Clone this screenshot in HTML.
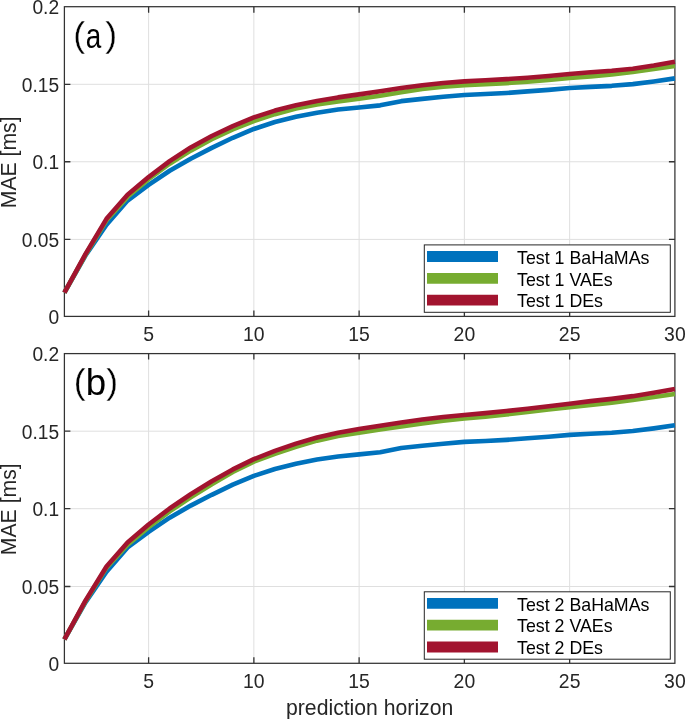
<!DOCTYPE html>
<html><head><meta charset="utf-8"><style>
html,body{margin:0;padding:0;background:#fff;width:685px;height:719px;overflow:hidden}
svg{display:block;will-change:transform}
</style></head><body>
<svg width="685" height="719" viewBox="0 0 685 719">
<rect width="685" height="719" fill="#fff"/>
<path d="M148.61 6.70V316.40 M253.87 6.70V316.40 M359.12 6.70V316.40 M464.38 6.70V316.40 M569.64 6.70V316.40 M64.40 239.40H674.90 M64.40 161.75H674.90 M64.40 84.30H674.90" stroke="#dfdfdf" stroke-width="1" fill="none"/>
<path d="M148.61 316.40v-6M148.61 6.70v6 M253.87 316.40v-6M253.87 6.70v6 M359.12 316.40v-6M359.12 6.70v6 M464.38 316.40v-6M464.38 6.70v6 M569.64 316.40v-6M569.64 6.70v6 M64.40 239.40h6M674.90 239.40h-6 M64.40 161.75h6M674.90 161.75h-6 M64.40 84.30h6M674.90 84.30h-6" stroke="#333" stroke-width="1.3" fill="none"/>
<rect x="64.4" y="6.7" width="610.5" height="309.7" fill="none" stroke="#333" stroke-width="1.25"/>
<g fill="none" stroke-width="4.6" stroke-linejoin="round" stroke-linecap="butt">
<polyline points="64.40,292.55 85.45,255.54 106.50,224.73 127.56,200.57 148.61,184.89 169.66,170.76 190.71,158.72 211.76,147.92 232.81,137.78 253.87,128.95 274.92,122.06 295.97,116.80 317.02,112.69 338.07,109.52 359.12,107.51 380.18,105.34 401.23,101.16 422.28,98.84 443.33,96.82 464.38,94.96 485.43,94.04 506.49,92.95 527.54,91.40 548.59,89.85 569.64,88.00 590.69,86.91 611.74,85.83 632.80,84.13 653.85,81.49 674.90,78.40" stroke="#0072BD"/>
<polyline points="64.40,292.55 85.45,254.77 106.50,220.24 127.56,196.86 148.61,179.13 169.66,163.72 190.71,150.63 211.76,139.25 232.81,129.30 253.87,121.02 274.92,114.17 295.97,108.59 317.02,104.49 338.07,101.39 359.12,98.72 380.18,95.74 401.23,92.18 422.28,89.04 443.33,86.83 464.38,85.25 485.43,84.16 506.49,83.16 527.54,81.76 548.59,79.94 569.64,78.01 590.69,76.34 611.74,74.56 632.80,71.97 653.85,68.87 674.90,66.01" stroke="#77AC30"/>
<polyline points="64.40,292.55 85.45,254.15 106.50,218.84 127.56,194.69 148.61,177.07 169.66,161.20 190.71,147.42 211.76,136.04 232.81,126.17 253.87,117.42 274.92,110.60 295.97,105.34 317.02,100.96 338.07,97.40 359.12,94.35 380.18,91.25 401.23,88.07 422.28,85.29 443.33,83.04 464.38,81.38 485.43,80.25 506.49,79.17 527.54,77.74 548.59,75.92 569.64,73.94 590.69,72.24 611.74,70.73 632.80,68.68 653.85,65.58 674.90,61.83" stroke="#A2142F"/>
</g>
<g font-family="Liberation Sans, sans-serif" font-size="20" fill="#262626" text-anchor="end">
<text transform="translate(59.10 323.90) scale(0.96 1)">0</text>
<text transform="translate(59.10 246.90) scale(0.96 1)">0.05</text>
<text transform="translate(59.10 169.25) scale(0.96 1)">0.1</text>
<text transform="translate(59.10 91.80) scale(0.96 1)">0.15</text>
<text transform="translate(59.10 14.20) scale(0.96 1)">0.2</text>
</g>
<g font-family="Liberation Sans, sans-serif" font-size="20" fill="#262626" text-anchor="middle">
<text transform="translate(148.61 340.90) scale(0.97 1)">5</text>
<text transform="translate(253.87 340.90) scale(0.97 1)">10</text>
<text transform="translate(359.12 340.90) scale(0.97 1)">15</text>
<text transform="translate(464.38 340.90) scale(0.97 1)">20</text>
<text transform="translate(569.64 340.90) scale(0.97 1)">25</text>
<text transform="translate(674.90 340.90) scale(0.97 1)">30</text>
</g>
<text transform="translate(15.5 162.35) rotate(-90)" font-family="Liberation Sans, sans-serif" font-size="21.2" fill="#262626" text-anchor="middle">MAE [ms]</text>
<text x="73.2" y="46.60" font-size="35.7" font-family="Liberation Sans, sans-serif" fill="#000" stroke="#fff" stroke-width="0.35">(</text>
<text x="105.3" y="46.60" font-size="35.7" font-family="Liberation Sans, sans-serif" fill="#000" stroke="#fff" stroke-width="0.35">)</text>
<text transform="translate(85.7 47.7) scale(0.81 1)" font-size="34.4" font-family="Liberation Sans, sans-serif" fill="#000">a</text>
<rect x="424.3" y="244.90" width="246.00" height="67.40" fill="#fff" stroke="#262626" stroke-width="1"/>
<path d="M427 256.50H498" stroke="#0072BD" stroke-width="10.8"/>
<text x="517" y="263.70" font-family="Liberation Sans, sans-serif" font-size="17.8" fill="#000">Test 1 BaHaMAs</text>
<path d="M427 278.30H498" stroke="#77AC30" stroke-width="10.8"/>
<text x="517" y="285.50" font-family="Liberation Sans, sans-serif" font-size="17.8" fill="#000">Test 1 VAEs</text>
<path d="M427 300.10H498" stroke="#A2142F" stroke-width="10.8"/>
<text x="517" y="307.30" font-family="Liberation Sans, sans-serif" font-size="17.8" fill="#000">Test 1 DEs</text>
<path d="M148.61 353.60V663.30 M253.87 353.60V663.30 M359.12 353.60V663.30 M464.38 353.60V663.30 M569.64 353.60V663.30 M64.40 586.50H674.90 M64.40 508.70H674.90 M64.40 431.20H674.90" stroke="#dfdfdf" stroke-width="1" fill="none"/>
<path d="M148.61 663.30v-6M148.61 353.60v6 M253.87 663.30v-6M253.87 353.60v6 M359.12 663.30v-6M359.12 353.60v6 M464.38 663.30v-6M464.38 353.60v6 M569.64 663.30v-6M569.64 353.60v6 M64.40 586.50h6M674.90 586.50h-6 M64.40 508.70h6M674.90 508.70h-6 M64.40 431.20h6M674.90 431.20h-6" stroke="#333" stroke-width="1.3" fill="none"/>
<rect x="64.4" y="353.6" width="610.5" height="309.69999999999993" fill="none" stroke="#333" stroke-width="1.25"/>
<g fill="none" stroke-width="4.6" stroke-linejoin="round" stroke-linecap="butt">
<polyline points="64.40,639.45 85.45,602.44 106.50,571.63 127.56,547.47 148.61,531.79 169.66,517.66 190.71,505.62 211.76,494.82 232.81,484.68 253.87,475.85 274.92,468.96 295.97,463.70 317.02,459.59 338.07,456.42 359.12,454.41 380.18,452.24 401.23,448.06 422.28,445.74 443.33,443.72 464.38,441.86 485.43,440.94 506.49,439.85 527.54,438.30 548.59,436.75 569.64,434.90 590.69,433.81 611.74,432.73 632.80,431.03 653.85,428.39 674.90,425.30" stroke="#0072BD"/>
<polyline points="64.40,639.45 85.45,601.36 106.50,567.60 127.56,544.68 148.61,527.23 169.66,511.39 190.71,497.38 211.76,484.37 232.81,472.06 253.87,461.65 274.92,453.79 295.97,446.86 317.02,440.63 338.07,436.02 359.12,432.61 380.18,429.55 401.23,426.42 422.28,423.44 443.33,420.77 464.38,418.56 485.43,416.70 506.49,414.49 527.54,411.90 548.59,409.42 569.64,407.22 590.69,405.05 611.74,402.69 632.80,399.98 653.85,396.96 674.90,394.02" stroke="#77AC30"/>
<polyline points="64.40,639.45 85.45,600.59 106.50,566.52 127.56,542.52 148.61,524.48 169.66,508.49 190.71,494.28 211.76,481.27 232.81,469.43 253.87,459.17 274.92,450.81 295.97,443.61 317.02,437.53 338.07,432.84 359.12,429.05 380.18,425.68 401.23,422.47 422.28,419.53 443.33,417.01 464.38,414.92 485.43,413.10 506.49,411.05 527.54,408.69 548.59,406.25 569.64,403.66 590.69,401.14 611.74,398.85 632.80,396.15 653.85,392.66 674.90,388.91" stroke="#A2142F"/>
</g>
<g font-family="Liberation Sans, sans-serif" font-size="20" fill="#262626" text-anchor="end">
<text transform="translate(59.10 670.80) scale(0.96 1)">0</text>
<text transform="translate(59.10 594.00) scale(0.96 1)">0.05</text>
<text transform="translate(59.10 516.20) scale(0.96 1)">0.1</text>
<text transform="translate(59.10 438.70) scale(0.96 1)">0.15</text>
<text transform="translate(59.10 361.10) scale(0.96 1)">0.2</text>
</g>
<g font-family="Liberation Sans, sans-serif" font-size="20" fill="#262626" text-anchor="middle">
<text transform="translate(148.61 687.80) scale(0.97 1)">5</text>
<text transform="translate(253.87 687.80) scale(0.97 1)">10</text>
<text transform="translate(359.12 687.80) scale(0.97 1)">15</text>
<text transform="translate(464.38 687.80) scale(0.97 1)">20</text>
<text transform="translate(569.64 687.80) scale(0.97 1)">25</text>
<text transform="translate(674.90 687.80) scale(0.97 1)">30</text>
</g>
<text transform="translate(15.5 509.25) rotate(-90)" font-family="Liberation Sans, sans-serif" font-size="21.2" fill="#262626" text-anchor="middle">MAE [ms]</text>
<text x="73.7" y="393.80" font-size="35.6" font-family="Liberation Sans, sans-serif" fill="#000" stroke="#fff" stroke-width="0.35">(</text>
<text x="106.3" y="393.80" font-size="35.6" font-family="Liberation Sans, sans-serif" fill="#000" stroke="#fff" stroke-width="0.35">)</text>
<text x="85.73" y="394.8" font-size="36.7" font-family="Liberation Sans, sans-serif" fill="#000">b</text>
<rect x="424.3" y="591.80" width="246.00" height="67.40" fill="#fff" stroke="#262626" stroke-width="1"/>
<path d="M427 603.40H498" stroke="#0072BD" stroke-width="10.8"/>
<text x="517" y="610.60" font-family="Liberation Sans, sans-serif" font-size="17.8" fill="#000">Test 2 BaHaMAs</text>
<path d="M427 625.20H498" stroke="#77AC30" stroke-width="10.8"/>
<text x="517" y="632.40" font-family="Liberation Sans, sans-serif" font-size="17.8" fill="#000">Test 2 VAEs</text>
<path d="M427 647.00H498" stroke="#A2142F" stroke-width="10.8"/>
<text x="517" y="654.20" font-family="Liberation Sans, sans-serif" font-size="17.8" fill="#000">Test 2 DEs</text>
<text x="369.65" y="714.5" font-family="Liberation Sans, sans-serif" font-size="21.2" fill="#262626" text-anchor="middle">prediction horizon</text>
</svg>
</body></html>
